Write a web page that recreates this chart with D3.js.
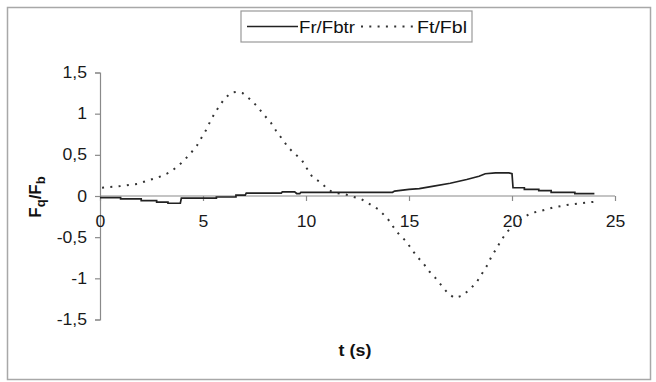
<!DOCTYPE html>
<html><head><meta charset="utf-8">
<script src="https://cdn.jsdelivr.net/npm/d3@7"></script>
<style>body{margin:0;background:#fff}svg{display:block;font-family:"Liberation Sans",Arial,sans-serif}</style>
</head><body><svg id="c" width="656" height="382"></svg>
<script>
const seriesNames = ["Fr/Fbtr", "Ft/Fbl"];
const frT = [0,1.0,1.0,2.0,2.0,2.75,2.75,3.3,3.3,3.9,3.95,5.65,5.65,6.6,6.6,7.05,7.1,8.8,8.85,9.45,9.55,9.7,9.75,14.2,14.3,15.0,15.5,16.2,17.0,17.8,18.4,18.7,19.2,19.85,20.0,20.05,20.6,20.6,21.3,21.3,21.9,21.9,23.05,23.05,24.0];
const frV = [-0.02,-0.02,-0.035,-0.035,-0.055,-0.055,-0.075,-0.075,-0.088,-0.088,-0.025,-0.025,-0.012,-0.012,0.01,0.01,0.035,0.035,0.05,0.05,0.03,0.03,0.045,0.045,0.06,0.08,0.09,0.12,0.155,0.2,0.24,0.27,0.28,0.28,0.27,0.1,0.1,0.08,0.08,0.065,0.065,0.045,0.045,0.03,0.03];
const ftT = [0.1,1.0,1.8,2.6,3.0,3.4,3.8,4.13,4.37,4.7,4.94,5.15,5.37,5.58,5.83,6.07,6.39,6.6,6.93,7.28,7.64,7.96,8.29,8.54,8.82,9.14,9.42,9.79,10.03,10.3,10.76,11.1,11.5,11.9,12.7,13.5,13.95,14.4,14.8,15.05,15.37,15.7,16.0,16.3,16.6,16.9,17.2,17.6,18.0,18.3,18.6,18.8,19.0,19.25,19.5,19.8,20.5,20.9,21.4,22.0,22.66,23.3,24.0];
const ftV = [0.1,0.12,0.146,0.21,0.243,0.29,0.365,0.446,0.51,0.61,0.714,0.80,0.916,1.01,1.107,1.19,1.257,1.265,1.249,1.176,1.087,0.985,0.892,0.795,0.70,0.59,0.52,0.44,0.34,0.235,0.155,0.07,0.033,0.02,-0.04,-0.16,-0.27,-0.434,-0.535,-0.617,-0.73,-0.82,-0.92,-1.0,-1.095,-1.184,-1.237,-1.21,-1.123,-1.04,-0.92,-0.84,-0.738,-0.636,-0.527,-0.426,-0.27,-0.21,-0.18,-0.14,-0.11,-0.09,-0.07];
const xTicks = [0,5,10,15,20,25];
const xTickLabels = ["0","5","10","15","20","25"];
const yTicks = [-1.5,-1,-0.5,0,0.5,1,1.5];
const yTickLabels = ["-1,5","-1","-0,5","0","0,5","1","1,5"];

const svg = d3.select("#c");
const x = d3.scaleLinear().domain([0,25]).range([100,615]);
const y = d3.scaleLinear().domain([-1.5,1.5]).range([319.5,72.5]);
const axisCol = "#8a8a8a";

function widen(sel, f){
  sel.each(function(){ const w = this.getComputedTextLength();
    d3.select(this).attr("textLength", w*f).attr("lengthAdjust","spacingAndGlyphs"); });
}

// outer border
svg.append("rect").attr("x",7.5).attr("y",7.5).attr("width",643).attr("height",372)
  .attr("fill","none").attr("stroke","#a8a8a8").attr("stroke-width",1.5);

// y axis
const ya = svg.append("g").attr("transform",`translate(${x(0)},0)`)
  .call(d3.axisLeft(y).tickValues(yTicks).tickSize(5).tickPadding(8)
    .tickFormat((d,i)=>yTickLabels[i]));
// x axis at y=0
const xa = svg.append("g").attr("transform",`translate(0,${y(0)})`)
  .call(d3.axisBottom(x).tickValues(xTicks).tickSize(5).tickPadding(15)
    .tickFormat((d,i)=>xTickLabels[i]));
[ya,xa].forEach(g=>{
  g.select(".domain").attr("stroke",axisCol).attr("stroke-width",1.2);
  g.selectAll(".tick line").attr("stroke",axisCol).attr("stroke-width",1.2);
  g.selectAll("text").attr("fill","#1a1a1a").style("font-size","16px").style("font-family","'Liberation Sans',Arial,sans-serif");
  widen(g.selectAll("text"), 1.1);
});
xa.select(".domain").attr("d",`M${x(0)},0H${x(25)}`);

// lines
const line = d3.line().x(d=>x(d[0])).y(d=>y(d[1]));
const frData = frT.map((t,i)=>[t,frV[i]]);
const ftData = ftT.map((t,i)=>[t,ftV[i]]);
svg.append("path").datum(ftData).attr("d",line).attr("fill","none")
  .attr("stroke","#333").attr("stroke-width",2).attr("stroke-dasharray","2,6.3");
svg.append("path").datum(frData).attr("d",line).attr("fill","none")
  .attr("stroke","#222").attr("stroke-width",1.7);

// axis titles
const tt = svg.append("text").attr("x",355).attr("y",356).attr("text-anchor","middle")
  .style("font-size","17px").style("font-weight","bold").attr("fill","#111").text("t (s)");
widen(tt, 1.05);
const yl = svg.append("text").attr("transform","translate(41,197) rotate(-90)").attr("text-anchor","middle")
  .style("font-size","17px").style("font-weight","bold").attr("fill","#111");
yl.append("tspan").text("F");
yl.append("tspan").attr("dy",4).style("font-size","13px").text("q");
yl.append("tspan").attr("dy",-4).text("/F");
yl.append("tspan").attr("dy",4).style("font-size","13px").text("b");

// legend
const lg = svg.append("g");
lg.append("rect").attr("x",241).attr("y",11).attr("width",231).attr("height",31)
  .attr("fill","#fff").attr("stroke","#999").attr("stroke-width",1.2);
lg.append("line").attr("x1",247).attr("x2",298).attr("y1",26.5).attr("y2",26.5)
  .attr("stroke","#222").attr("stroke-width",1.6);
lg.append("text").attr("x",299).attr("y",33).style("font-size","17px").attr("fill","#111")
  .attr("textLength",56).attr("lengthAdjust","spacingAndGlyphs").text(seriesNames[0]);
lg.append("line").attr("x1",361).attr("x2",416).attr("y1",26.5).attr("y2",26.5)
  .attr("stroke","#333").attr("stroke-width",2).attr("stroke-dasharray","2,6.3");
lg.append("text").attr("x",417).attr("y",33).style("font-size","17px").attr("fill","#111")
  .attr("textLength",50).attr("lengthAdjust","spacingAndGlyphs").text(seriesNames[1]);
</script></body></html>
